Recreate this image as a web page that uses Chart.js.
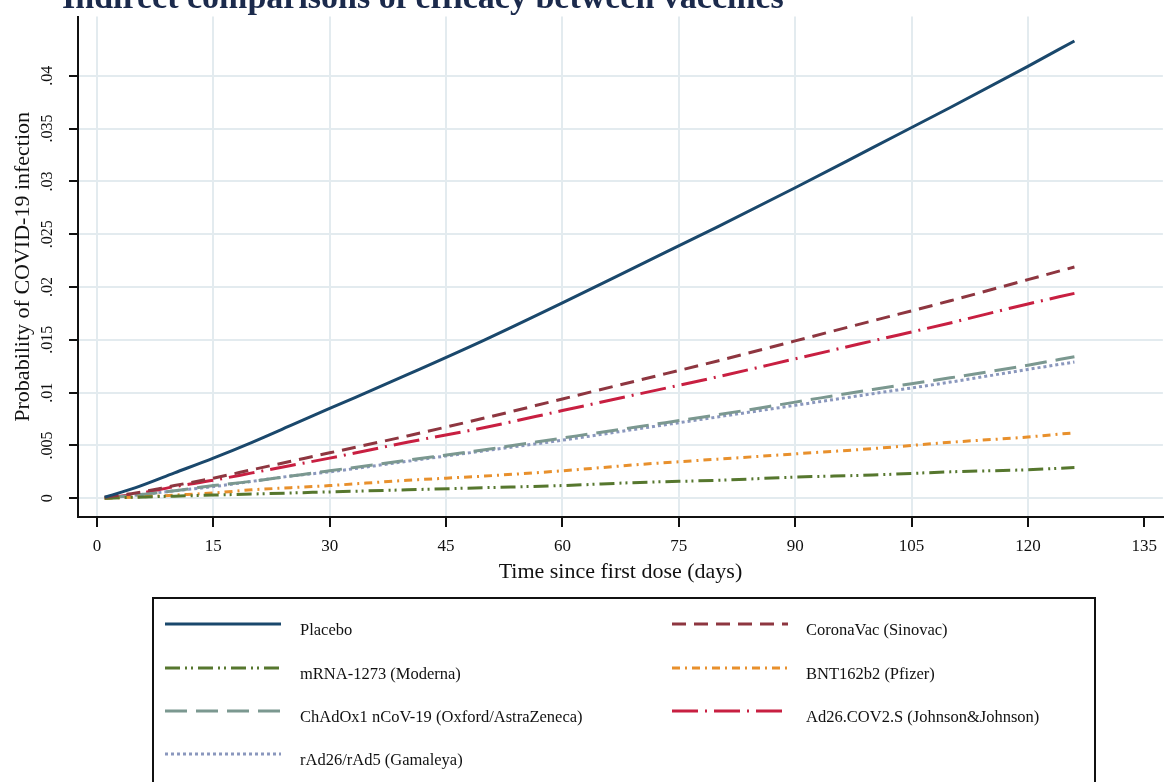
<!DOCTYPE html>
<html>
<head>
<meta charset="utf-8">
<script src="https://cdn.jsdelivr.net/npm/chart.js@4.4.1/dist/chart.umd.min.js"></script>
<style>
  html, body { margin: 0; padding: 0; background: #ffffff; }
  #wrap { position: relative; width: 1166px; height: 782px; overflow: hidden; }
  canvas { display: block; }
</style>
</head>
<body>
<div id="wrap"><canvas id="c" width="1166" height="782"></canvas></div>
<script>
// ---- data ----
const chartTitle = 'Indirect comparisons of efficacy between vaccines';
const xTitle = 'Time since first dose (days)';
const yTitle = 'Probability of COVID-19 infection';

const days = [1, 5, 10, 15, 20, 25, 30, 40, 50, 60, 70, 80, 90, 100, 110, 120, 126];

const placebo    = [0.0001, 0.0010, 0.0024, 0.0038, 0.0053, 0.0069, 0.0085, 0.0117, 0.0150, 0.0185, 0.0221, 0.0257, 0.0294, 0.0332, 0.0370, 0.0409, 0.0433];
const coronaVac  = [0.0001, 0.0005, 0.0012, 0.0019, 0.0027, 0.0035, 0.0043, 0.0059, 0.0076, 0.0094, 0.0112, 0.0130, 0.0149, 0.0168, 0.0187, 0.0207, 0.0219];
const moderna    = [0.0000, 0.0001, 0.0002, 0.0003, 0.0004, 0.0005, 0.0006, 0.0008, 0.0010, 0.0012, 0.0015, 0.0017, 0.0020, 0.0022, 0.0025, 0.0027, 0.0029];
const pfizer     = [0.0000, 0.0001, 0.0003, 0.0005, 0.0008, 0.0010, 0.0012, 0.0017, 0.0021, 0.0026, 0.0032, 0.0037, 0.0042, 0.0047, 0.0053, 0.0058, 0.0062];
const astra      = [0.0000, 0.0003, 0.0007, 0.0012, 0.0016, 0.0021, 0.0026, 0.0036, 0.0046, 0.0057, 0.0068, 0.0079, 0.0091, 0.0103, 0.0114, 0.0126, 0.0134];
const jandj      = [0.0000, 0.0004, 0.0011, 0.0017, 0.0024, 0.0031, 0.0038, 0.0053, 0.0067, 0.0083, 0.0099, 0.0115, 0.0132, 0.0149, 0.0166, 0.0184, 0.0194];
const gamaleya   = [0.0000, 0.0003, 0.0007, 0.0011, 0.0016, 0.0021, 0.0025, 0.0035, 0.0045, 0.0055, 0.0066, 0.0077, 0.0088, 0.0099, 0.0110, 0.0122, 0.0129];

const seriesLabels = [
  'Placebo',
  'CoronaVac (Sinovac)',
  'mRNA-1273 (Moderna)',
  'BNT162b2 (Pfizer)',
  'ChAdOx1 nCoV-19 (Oxford/AstraZeneca)',
  'Ad26.COV2.S (Johnson&Johnson)',
  'rAd26/rAd5 (Gamaleya)'
];

const xTicks = [0, 15, 30, 45, 60, 75, 90, 105, 120, 135];
const yTicks = [0, 0.005, 0.01, 0.015, 0.02, 0.025, 0.03, 0.035, 0.04];
const yTickLabels = ['0', '.005', '.01', '.015', '.02', '.025', '.03', '.035', '.04'];

// ---- styles ----
const seriesValues = [placebo, coronaVac, moderna, pfizer, astra, jandj, gamaleya];
const seriesColors = ['#1a486c', '#8e3640', '#56772e', '#e8902c', '#7b9890', '#c81f41', '#8a97bd'];
const seriesDash = [[], [14, 8], [15, 5, 2, 4, 2, 5], [8, 5, 2, 5], [22, 9], [26, 7, 2, 7], [3, 3]];
// legend slot: [column, row]
const legendSlots = [[0, 0], [1, 0], [0, 1], [1, 1], [0, 2], [1, 2], [0, 3]];

const serif = "'Liberation Serif', 'DejaVu Serif', serif";

const datasets = seriesValues.map((vals, i) => ({
  label: seriesLabels[i],
  data: days.map((d, j) => ({ x: d, y: vals[j] })),
  borderColor: seriesColors[i],
  backgroundColor: seriesColors[i],
  borderDash: seriesDash[i],
  borderWidth: 3,
  pointRadius: 0,
  fill: false,
  cubicInterpolationMode: 'monotone'
}));

const extras = {
  id: 'extras',
  afterDraw(chart) {
    const ctx = chart.ctx;
    ctx.save();
    // clipped title at the very top
    ctx.fillStyle = '#1b2a4c';
    ctx.font = 'bold 34px ' + serif;
    ctx.textBaseline = 'alphabetic';
    ctx.textAlign = 'left';
    ctx.fillText(chartTitle, 62, 8);

    // legend box
    const L = { left: 153, top: 598, right: 1095, bottom: 800 };
    ctx.fillStyle = '#ffffff';
    ctx.fillRect(L.left, L.top, L.right - L.left, L.bottom - L.top);
    ctx.strokeStyle = '#111111';
    ctx.lineWidth = 2;
    ctx.strokeRect(L.left, L.top, L.right - L.left, L.bottom - L.top);

    const colLineX = [165, 672];
    const lineLen = 116;
    const colTextX = [300, 806];
    const rowY = [631, 675, 718, 761];
    ctx.font = '16.5px ' + serif;
    ctx.textBaseline = 'middle';
    chart.data.datasets.forEach((ds, i) => {
      const [c, r] = legendSlots[i];
      const y = rowY[r];
      ctx.beginPath();
      ctx.setLineDash(ds.borderDash || []);
      ctx.strokeStyle = ds.borderColor;
      ctx.lineWidth = 3;
      ctx.moveTo(colLineX[c], y - 7);
      ctx.lineTo(colLineX[c] + lineLen, y - 7);
      ctx.stroke();
      ctx.setLineDash([]);
      ctx.fillStyle = '#111111';
      ctx.fillText(ds.label, colTextX[c], y);
    });
    ctx.restore();
  }
};

new Chart(document.getElementById('c'), {
  type: 'line',
  data: { datasets },
  options: {
    responsive: false,
    animation: false,
    events: [],
    layout: { padding: { top: 10, bottom: 197, left: 0, right: 0 } },
    plugins: {
      legend: { display: false },
      tooltip: { enabled: false },
      title: { display: false }
    },
    scales: {
      x: {
        type: 'linear',
        min: -2.44,
        max: 137.4,
        afterBuildTicks: (s) => { s.ticks = xTicks.map(v => ({ value: v })); },
        afterFit: (s) => { s.height = 68; },
        ticks: {
          autoSkip: false,
          maxRotation: 0,
          padding: 9,
          color: '#111111',
          font: { family: serif, size: 17 },
          callback: (v) => String(v)
        },
        grid: {
          color: (c) => (c.tick && c.tick.value === 135 ? 'rgba(0,0,0,0)' : '#e3ebef'),
          lineWidth: 2,
          drawTicks: true,
          tickLength: 10,
          tickColor: '#111111',
          tickWidth: 2
        },
        border: { display: true, color: '#111111', width: 2 },
        title: {
          display: true,
          text: xTitle,
          color: '#111111',
          font: { family: serif, size: 22 },
          padding: { top: 0, bottom: 0 }
        }
      },
      y: {
        type: 'linear',
        min: -0.001776,
        max: 0.045607,
        afterBuildTicks: (s) => { s.ticks = yTicks.map(v => ({ value: v })); },
        afterFit: (s) => { s.width = 78; },
        ticks: {
          autoSkip: false,
          minRotation: 90,
          maxRotation: 90,
          crossAlign: 'center',
          padding: 7,
          color: '#111111',
          font: { family: serif, size: 16 },
          callback: (v, i) => yTickLabels[i]
        },
        grid: {
          color: '#e3ebef',
          lineWidth: 2,
          drawTicks: true,
          tickLength: 9,
          tickColor: '#111111',
          tickWidth: 2
        },
        border: { display: true, color: '#111111', width: 2 },
        title: {
          display: true,
          text: yTitle,
          color: '#111111',
          font: { family: serif, size: 22 },
          padding: { top: 10, bottom: 0 }
        }
      }
    }
  },
  plugins: [extras]
});
</script>
</body>
</html>
